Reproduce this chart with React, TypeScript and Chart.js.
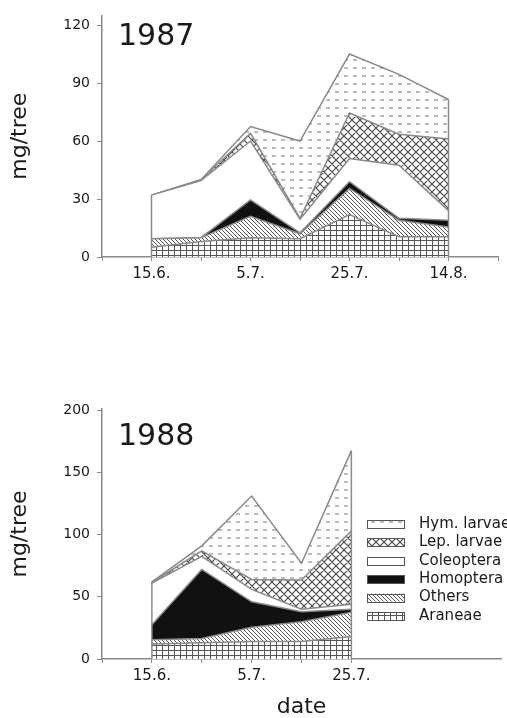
import React, { useEffect, useRef } from 'react';
import { Chart, registerables } from 'chart.js';

Chart.register(...registerables);
Chart.defaults.font.family = '"DejaVu Sans", sans-serif';

// ---------- data ----------
const seriesLabels = ['Araneae', 'Others', 'Homoptera', 'Coleoptera', 'Lep. larvae', 'Hym. larvae'];

// sampling dates as days after 15 June
const days1987 = [0, 10, 20, 30, 40, 50, 60];
const araneae1987 = [5, 8, 10, 9.5, 22, 10.5, 10.5];
const others1987 = [4.5, 2, 11, 2.5, 13.5, 8.5, 5];
const homoptera1987 = [0, 0, 8.5, 0.5, 3.5, 1, 3.5];
const coleoptera1987 = [22.5, 29.5, 30.5, 7, 12, 27.5, 5];
const lep1987 = [0, 0.5, 4, 0.5, 23.5, 16, 37];
const hym1987 = [0, 0, 3.5, 40, 30.5, 31, 20.5];

const days1988 = [0, 10, 20, 30, 40];
const araneae1988 = [12, 13, 14, 14, 18];
const others1988 = [3.5, 3.5, 11.5, 16, 19.5];
const homoptera1988 = [12, 55.5, 20.5, 8, 2.5];
const coleoptera1988 = [33.5, 10.5, 10, 2, 4];
const lep1988 = [0.5, 4.5, 8, 23.5, 59];
const hym1988 = [0.5, 4, 67, 13.5, 64.5];

const xTickDays1987 = [-10, 0, 10, 20, 30, 40, 50, 60, 70];
const xTickLabels1987 = ['', '15.6.', '', '5.7.', '', '25.7.', '', '14.8.', ''];
const xTickDays1988 = [-10, 0, 10, 20, 30, 40];
const xTickLabels1988 = ['', '15.6.', '', '5.7.', '', '25.7.'];
const yTicks1987 = [0, 30, 60, 90, 120];
const yTicks1988 = [0, 50, 100, 150, 200];

// ---------- patterns ----------
const GRAY = '#8a8a8a';
const INK = '#1a1a1a';

function tile(w: number, h: number, draw: (g: CanvasRenderingContext2D) => void): CanvasPattern {
  const c = document.createElement('canvas');
  c.width = w;
  c.height = h;
  const g = c.getContext('2d')!;
  g.fillStyle = '#fff';
  g.fillRect(0, 0, w, h);
  draw(g);
  const ctx = document.createElement('canvas').getContext('2d')!;
  return ctx.createPattern(c, 'repeat')!;
}

function makeFills(): any[] {
  const araneae = tile(6, 5, (g) => {
    g.strokeStyle = '#555';
    g.lineWidth = 1;
    g.beginPath();
    g.moveTo(0.5, 0);
    g.lineTo(0.5, 5);
    g.moveTo(0, 0.5);
    g.lineTo(6, 0.5);
    g.stroke();
  });
  const others = tile(4, 4, (g) => {
    g.strokeStyle = '#555';
    g.lineWidth = 1;
    g.beginPath();
    for (const o of [-4, 0, 4]) {
      g.moveTo(o, 0);
      g.lineTo(o + 4, 4);
    }
    g.stroke();
  });
  const lep = tile(8, 8, (g) => {
    g.strokeStyle = '#444';
    g.lineWidth = 1.1;
    g.beginPath();
    for (const o of [-8, 0, 8]) {
      g.moveTo(o, 0);
      g.lineTo(o + 8, 8);
      g.moveTo(o + 8, 0);
      g.lineTo(o, 8);
    }
    g.stroke();
  });
  const hym = tile(9, 8, (g) => {
    g.strokeStyle = '#a0a0a0';
    g.lineWidth = 1.4;
    g.beginPath();
    g.moveTo(2, 4);
    g.lineTo(6, 4);
    g.stroke();
  });
  return [araneae, others, '#111111', '#ffffff', lep, hym];
}

// ---------- plugin: edges, year label, legend ----------
const decorPlugin = {
  id: 'decor',
  afterDatasetsDraw(chart: any, _args: any, opts: any) {
    const ctx: CanvasRenderingContext2D = chart.ctx;
    const xs = chart.scales.x;
    const ys = chart.scales.y;
    const ds = chart.data.datasets;
    const n = ds[0].data.length;
    ctx.save();
    ctx.strokeStyle = GRAY;
    ctx.lineWidth = 1.5;
    for (const j of [0, n - 1]) {
      let total = 0;
      ds.forEach((d: any) => (total += d.data[j].y));
      const xp = xs.getPixelForValue(ds[0].data[j].x);
      ctx.beginPath();
      ctx.moveTo(xp, ys.getPixelForValue(0));
      ctx.lineTo(xp, ys.getPixelForValue(total));
      ctx.stroke();
    }
    ctx.restore();

    ctx.save();
    ctx.font = '30px "DejaVu Sans"';
    ctx.fillStyle = INK;
    ctx.textBaseline = 'alphabetic';
    ctx.textAlign = 'left';
    ctx.fillText(opts.year, chart.chartArea.left + 16, opts.yearY);
    ctx.restore();

    if (opts.legend) {
      const { x, y, rowH, boxW, boxH, textX } = opts.legend;
      ctx.save();
      ctx.font = '15px "DejaVu Sans"';
      ctx.textBaseline = 'middle';
      ctx.textAlign = 'left';
      const order = ds.map((_: any, i: number) => i).reverse();
      order.forEach((i: number, r: number) => {
        const d = ds[i];
        const cy = y + r * rowH;
        ctx.fillStyle = d.backgroundColor;
        ctx.fillRect(x, cy - boxH / 2, boxW, boxH);
        ctx.strokeStyle = '#555';
        ctx.lineWidth = 1;
        ctx.strokeRect(x + 0.5, Math.round(cy - boxH / 2) + 0.5, boxW - 1, boxH);
        ctx.fillStyle = INK;
        ctx.fillText(d.label, textX, cy);
      });
      ctx.restore();
    }
  },
};

type Props = {
  height: number;
  days: number[];
  values: number[][];
  xTickDays: number[];
  xTickLabels: string[];
  yTicks: number[];
  yMax: number;
  padTop: number;
  padRight: number;
  xScaleHeight: number;
  year: string;
  yearY: number;
  legend?: any;
  xTitle?: string;
};

function AreaChart(p: Props) {
  const ref = useRef<HTMLCanvasElement>(null);
  useEffect(() => {
    const fills = makeFills();
    const datasets = p.values.map((vals, i) => ({
      label: seriesLabels[i],
      data: p.days.map((d, j) => ({ x: d, y: vals[j] })),
      fill: i === 0 ? 'origin' : '-1',
      backgroundColor: fills[i],
      borderColor: GRAY,
      borderWidth: 1.5,
      pointRadius: 0,
      tension: 0,
    }));
    const chart = new Chart(ref.current!, {
      type: 'line',
      data: { datasets } as any,
      plugins: [decorPlugin as any],
      options: {
        responsive: false,
        animation: false,
        layout: { padding: { left: 0, top: p.padTop, right: p.padRight, bottom: 0 } },
        plugins: {
          legend: { display: false },
          tooltip: { enabled: false },
          decor: { year: p.year, yearY: p.yearY, legend: p.legend },
        } as any,
        scales: {
          x: {
            type: 'linear',
            min: -10,
            max: 70,
            afterFit: (s: any) => {
              s.height = p.xScaleHeight;
            },
            afterBuildTicks: (s: any) => {
              s.ticks = p.xTickDays.map((v) => ({ value: v }));
            },
            ticks: {
              autoSkip: false,
              maxRotation: 0,
              padding: 4,
              color: INK,
              font: { size: 15 },
              callback: (v: any) => {
                const k = p.xTickDays.indexOf(Number(v));
                return k >= 0 ? p.xTickLabels[k] : '';
              },
            },
            grid: { drawOnChartArea: false, drawTicks: true, tickLength: 4, color: GRAY, lineWidth: 1 },
            border: { display: true, color: GRAY, width: 1.5 },
            title: {
              display: !!p.xTitle,
              text: p.xTitle || '',
              color: INK,
              font: { size: 22 },
              padding: { top: 0, bottom: 0 },
            },
          },
          y: {
            stacked: true,
            min: 0,
            max: p.yMax,
            afterFit: (s: any) => {
              s.width = 102;
            },
            afterBuildTicks: (s: any) => {
              s.ticks = p.yTicks.map((v) => ({ value: v }));
            },
            ticks: { padding: 7, color: INK, font: { size: 14 } },
            grid: { drawOnChartArea: false, drawTicks: true, tickLength: 5, color: GRAY, lineWidth: 1 },
            border: { display: true, color: GRAY, width: 1.5 },
            title: {
              display: true,
              text: 'mg/tree',
              color: INK,
              font: { size: 22 },
              padding: { top: 7, bottom: 0 },
            },
          },
        },
      } as any,
    });
    return () => chart.destroy();
  }, []);
  return <canvas ref={ref} width={507} height={p.height} style={{ display: 'block' }} />;
}

export default function App() {
  return (
    <div style={{ position: 'absolute', left: 0, top: 0, width: 507, height: 718, overflow: 'hidden', background: '#fff' }}>
      <div style={{ position: 'absolute', left: 0, top: 0 }}>
        <AreaChart
          height={300}
          days={days1987}
          values={[araneae1987, others1987, homoptera1987, coleoptera1987, lep1987, hym1987]}
          xTickDays={xTickDays1987}
          xTickLabels={xTickLabels1987}
          yTicks={yTicks1987}
          yMax={125}
          padTop={10}
          padRight={9}
          xScaleHeight={43}
          year="1987"
          yearY={45}
        />
      </div>
      <div style={{ position: 'absolute', left: 0, top: 390 }}>
        <AreaChart
          height={330}
          days={days1988}
          values={[araneae1988, others1988, homoptera1988, coleoptera1988, lep1988, hym1988]}
          xTickDays={xTickDays1988}
          xTickLabels={xTickLabels1988}
          yTicks={yTicks1988}
          yMax={201}
          padTop={19}
          padRight={6}
          xScaleHeight={61}
          year="1988"
          yearY={55}
          xTitle="date"
          legend={{ x: 367, y: 134, rowH: 18.4, boxW: 38, boxH: 8, textX: 419 }}
        />
      </div>
    </div>
  );
}
